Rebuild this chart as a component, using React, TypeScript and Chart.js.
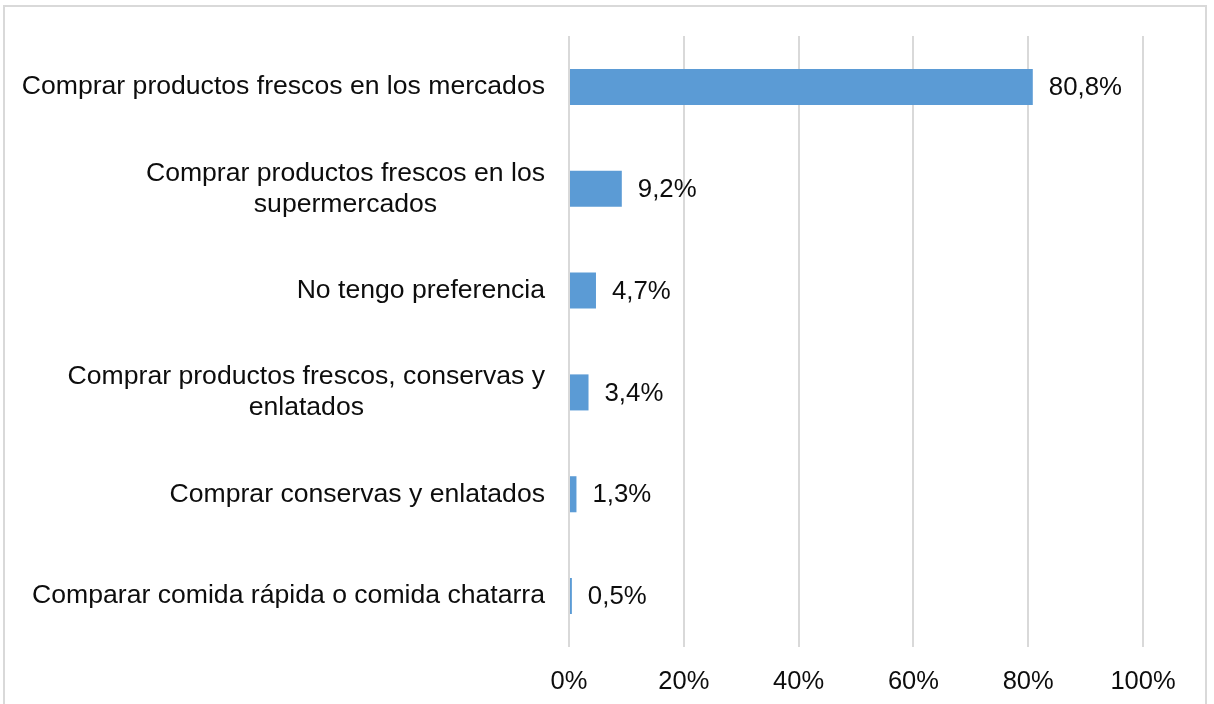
import React, { useEffect, useRef } from "react";
import { Chart, registerables } from "chart.js";

Chart.register(...registerables);

const categories: string[][] = [
  ["Comprar productos frescos en los mercados"],
  ["Comprar productos frescos en los", "supermercados"],
  ["No tengo preferencia"],
  ["Comprar productos frescos, conservas y", "enlatados"],
  ["Comprar conservas y enlatados"],
  ["Comparar comida rápida o comida chatarra"],
];
const values: number[] = [80.8, 9.2, 4.7, 3.4, 1.3, 0.5];
const xTicks: number[] = [0, 20, 40, 60, 80, 100];

const FONT = '"Liberation Sans", Arial, sans-serif';

const labelsPlugin = {
  id: "customLabels",
  afterDatasetsDraw(chart: any) {
    const ctx = chart.ctx;
    const yScale = chart.scales.y;
    const meta = chart.getDatasetMeta(0);
    ctx.save();
    // category labels
    ctx.font = `26.6px ${FONT}`;
    ctx.fillStyle = "#0d0d0d";
    ctx.textBaseline = "middle";
    ctx.textAlign = "center";
    const rightEdge = chart.chartArea.left - 24;
    const lh = 31;
    categories.forEach((lines, i) => {
      const yc = yScale.getPixelForValue(i);
      const maxW = Math.max(...lines.map((l) => ctx.measureText(l).width));
      const cx = rightEdge - maxW / 2;
      const y0 = yc - ((lines.length - 1) * lh) / 2;
      lines.forEach((l, j) => ctx.fillText(l, cx, y0 + j * lh));
    });
    // data labels
    ctx.font = `25.8px ${FONT}`;
    ctx.textAlign = "left";
    meta.data.forEach((bar: any, i: number) => {
      const txt = values[i].toFixed(1).replace(".", ",") + "%";
      ctx.fillText(txt, bar.x + 16, bar.y + 1);
    });
    ctx.restore();
  },
};

export default function App() {
  const ref = useRef<HTMLCanvasElement | null>(null);
  useEffect(() => {
    if (!ref.current) return;
    const chart = new Chart(ref.current, {
      type: "bar",
      data: {
        labels: categories.map((c) => c.join(" ")),
        datasets: [
          {
            data: values,
            backgroundColor: "#5b9bd5",
            barPercentage: 0.354,
            categoryPercentage: 1,
          },
        ],
      },
      options: {
        indexAxis: "y",
        animation: false,
        responsive: false,
        devicePixelRatio: 1,
        layout: { padding: { left: 569, right: 71, top: 36, bottom: 9 } },
        plugins: {
          legend: { display: false },
          tooltip: { enabled: false },
        },
        scales: {
          x: {
            min: 0,
            max: 100,
            afterBuildTicks: (scale: any) => {
              scale.ticks = xTicks.map((v) => ({ value: v }));
            },
            afterFit: (scale: any) => {
              scale.height = 48;
            },
            grid: { color: "#d9d9d9", lineWidth: 2, drawTicks: false },
            border: { display: false },
            ticks: {
              padding: 19.5,
              color: "#0d0d0d",
              font: { family: FONT, size: 25.5 },
              callback: (v: any) => v + "%",
            },
          },
          y: {
            display: false,
          },
        },
      },
      plugins: [labelsPlugin],
    });
    return () => chart.destroy();
  }, []);
  return (
    <div style={{ position: "fixed", left: 0, top: 0, width: 1214, height: 704, background: "#fff", overflow: "hidden" }}>
      <div
        style={{
          position: "absolute",
          left: 3,
          top: 5,
          width: 1204,
          height: 800,
          border: "2px solid #d9d9d9",
          boxSizing: "border-box",
        }}
      />
      <canvas ref={ref} width={1214} height={704} style={{ position: "absolute", left: 0, top: 0 }} />
    </div>
  );
}
